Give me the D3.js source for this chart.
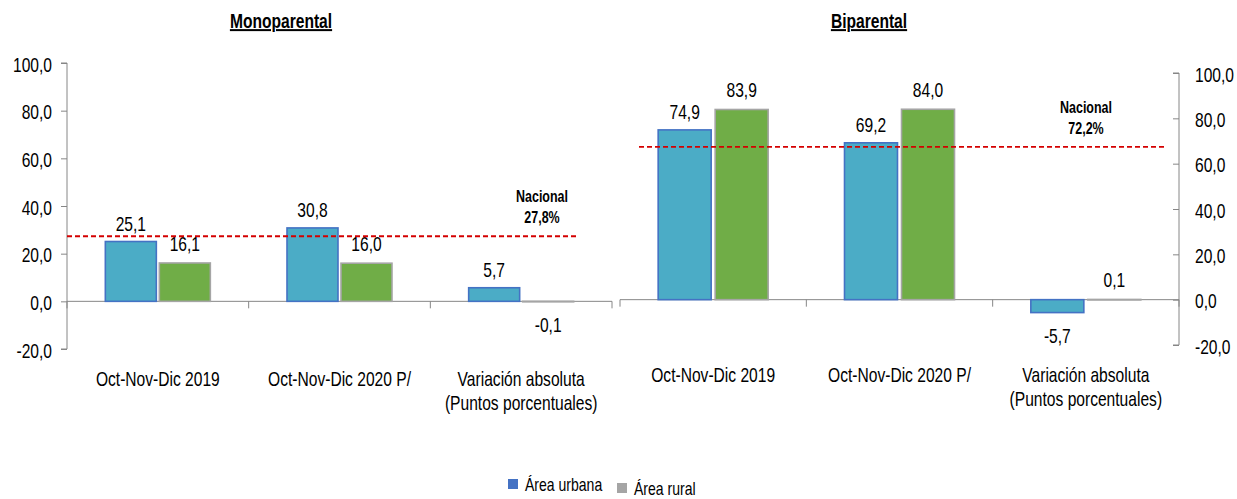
<!DOCTYPE html>
<html>
<head>
<meta charset="utf-8">
<script src="https://cdn.jsdelivr.net/npm/d3@7"></script>
<style>
  html, body { margin: 0; padding: 0; background: #fff; }
  svg text { font-family: 'Liberation Sans Narrow', 'Arial Narrow', 'Liberation Sans', Arial, sans-serif; fill: #000; }
</style>
</head>
<body>
<svg id="chart" width="1237" height="499"></svg>
<script>
// ---- data ----
const categories = ["Oct-Nov-Dic 2019", "Oct-Nov-Dic 2020 P/", "Variación absoluta\n(Puntos porcentuales)"];
const seriesNames = ["Área urbana", "Área rural"];
const panelTitles = ["Monoparental", "Biparental"];
const monoUrbana = [25.1, 30.8, 5.7];
const monoRural = [16.1, 16.0, -0.1];
const biUrbana = [74.9, 69.2, -5.7];
const biRural = [83.9, 84.0, 0.1];
const nacionalLabels = ["27,8%", "72,2%"];
const nacionalLinePos = [27.3, 67.4]; // where the dashed reference line is drawn
const yTicks = [-20, 0, 20, 40, 60, 80, 100];

const svg = d3.select("#chart");
const SX = 0.78; // horizontal condensing to mimic a narrow font
const fmt = v => d3.format(".1f")(v).replace(".", ",").replace("\u2212", "-");
const axisColor = "#868686";
const barFill = ["#4BACC6", "#70AD47"];
const barStroke = ["#4472C4", "#A5A5A5"];
const legendColor = ["#4472C4", "#A5A5A5"];

function ntext(parent, x, y, str, size, opts = {}) {
  const t = parent.append("text")
    .attr("transform", `translate(${x},${y}) scale(${opts.sx || SX},1)`)
    .attr("text-anchor", opts.anchor || "middle")
    .style("font-size", size + "px");
  if (opts.bold) t.style("font-weight", "bold");
  if (opts.underline) t.style("text-decoration", "underline");
  const lines = String(str).split("\n");
  if (lines.length === 1) t.text(str);
  else lines.forEach((ln, k) => t.append("tspan").attr("x", 0).attr("y", k * (opts.lh || 24)).text(ln));
  return t;
}

const panels = [
  { title: panelTitles[0], urb: monoUrbana, rur: monoRural, x0: 67, x1: 612, yTop: 63, yBot: 349, axisSide: "left",
    titleX: 281, labelBase: 386, nacX: 542, nacY: 202, lineX: [67, 577], nac: nacionalLabels[0], lineV: nacionalLinePos[0], barW: 51, gap: 3 },
  { title: panelTitles[1], urb: biUrbana, rur: biRural, x0: 620, x1: 1179, yTop: 73, yBot: 345, axisSide: "right",
    titleX: 869, labelBase: 382, nacX: 1086, nacY: 113, lineX: [639, 1167], nac: nacionalLabels[1], lineV: nacionalLinePos[1], barW: 53, gap: 4 }
];

panels.forEach(p => {
  const g = svg.append("g");
  const y = d3.scaleLinear().domain([-20, 100]).range([p.yBot, p.yTop]);
  const x = d3.scaleBand().domain(categories).range([p.x0, p.x1]).padding(0);

  // y axis
  const axisX = p.axisSide === "left" ? p.x0 : p.x1;
  const yAxis = d3.axisLeft(y).tickValues(yTicks).tickSize(6).tickFormat(fmt);
  const ya = g.append("g").attr("transform", `translate(${axisX},0)`).call(yAxis);
  ya.select(".domain").attr("stroke", axisColor).attr("d", `M-6,${p.yTop}H0V${p.yBot}H-6`);
  ya.selectAll(".tick line").attr("stroke", axisColor);
  const tx = p.axisSide === "left" ? -15 : 16;
  ya.selectAll(".tick text")
    .style("font-size", "20px").attr("fill", "#000")
    .attr("font-family", null)
    .attr("x", 0).attr("dy", "0.36em")
    .attr("text-anchor", p.axisSide === "left" ? "end" : "start")
    .attr("transform", `translate(${tx},1) scale(${SX},1)`);

  // x axis line at zero with category ticks
  const y0 = y(0);
  g.append("line").attr("x1", p.x0).attr("x2", p.x1).attr("y1", y0).attr("y2", y0).attr("stroke", axisColor).attr("stroke-width", 1);
  const bounds = categories.map(c => x(c)).concat([p.x1]);
  bounds.forEach(bx => {
    g.append("line").attr("x1", bx).attr("x2", bx).attr("y1", y0).attr("y2", y0 + 7).attr("stroke", axisColor);
  });

  // bars
  const inner = c => {
    const cx = x(c) + x.bandwidth() / 2;
    return d3.scaleBand().domain(seriesNames).range([cx - p.barW - p.gap / 2, cx + p.barW + p.gap / 2]).paddingInner(p.gap / (p.barW + p.gap));
  };
  const rows = [];
  categories.forEach((c, i) => {
    [p.urb[i], p.rur[i]].forEach((v, s) => rows.push({ c, s, v }));
  });
  rows.forEach(d => {
    const xs = inner(d.c);
    const top = y(Math.max(0, d.v)), bot = y(Math.min(0, d.v));
    g.append("rect")
      .attr("x", xs(seriesNames[d.s]))
      .attr("y", top)
      .attr("width", xs.bandwidth())
      .attr("height", Math.max(0.5, bot - top))
      .attr("fill", barFill[d.s])
      .attr("stroke", barStroke[d.s])
      .attr("stroke-width", 1.6);
    const lx = xs(seriesNames[d.s]) + xs.bandwidth() / 2;
    const ly = d.v >= 0 ? top - (d.s === 0 ? 11 : 12) : bot + 30;
    ntext(g, lx, ly, fmt(d.v), 20);
  });

  // nacional dashed line
  g.append("line").attr("x1", p.lineX[0]).attr("x2", p.lineX[1])
    .attr("y1", y(p.lineV)).attr("y2", y(p.lineV))
    .attr("stroke", "#D40000").attr("stroke-width", 1.8).attr("stroke-dasharray", "5,3");
  ntext(g, p.nacX, p.nacY, "Nacional", 16, { bold: true });
  ntext(g, p.nacX, p.nacY + 21, p.nac, 16, { bold: true });

  // category labels
  categories.forEach(c => {
    ntext(g, x(c) + x.bandwidth() / 2, p.labelBase, c, 20, { lh: 24 });
  });

  // title
  ntext(g, p.titleX, 28, p.title, 20, { bold: true, underline: true });
});

// legend
const leg = svg.append("g");
const legX = [508, 617], legY = [479, 483];
seriesNames.forEach((n, i) => {
  leg.append("rect").attr("x", legX[i]).attr("y", legY[i]).attr("width", 10).attr("height", 10).attr("fill", legendColor[i]);
  ntext(leg, legX[i] + 17, legY[i] + 12, n, 18, { anchor: "start" });
});
</script>
</body>
</html>
